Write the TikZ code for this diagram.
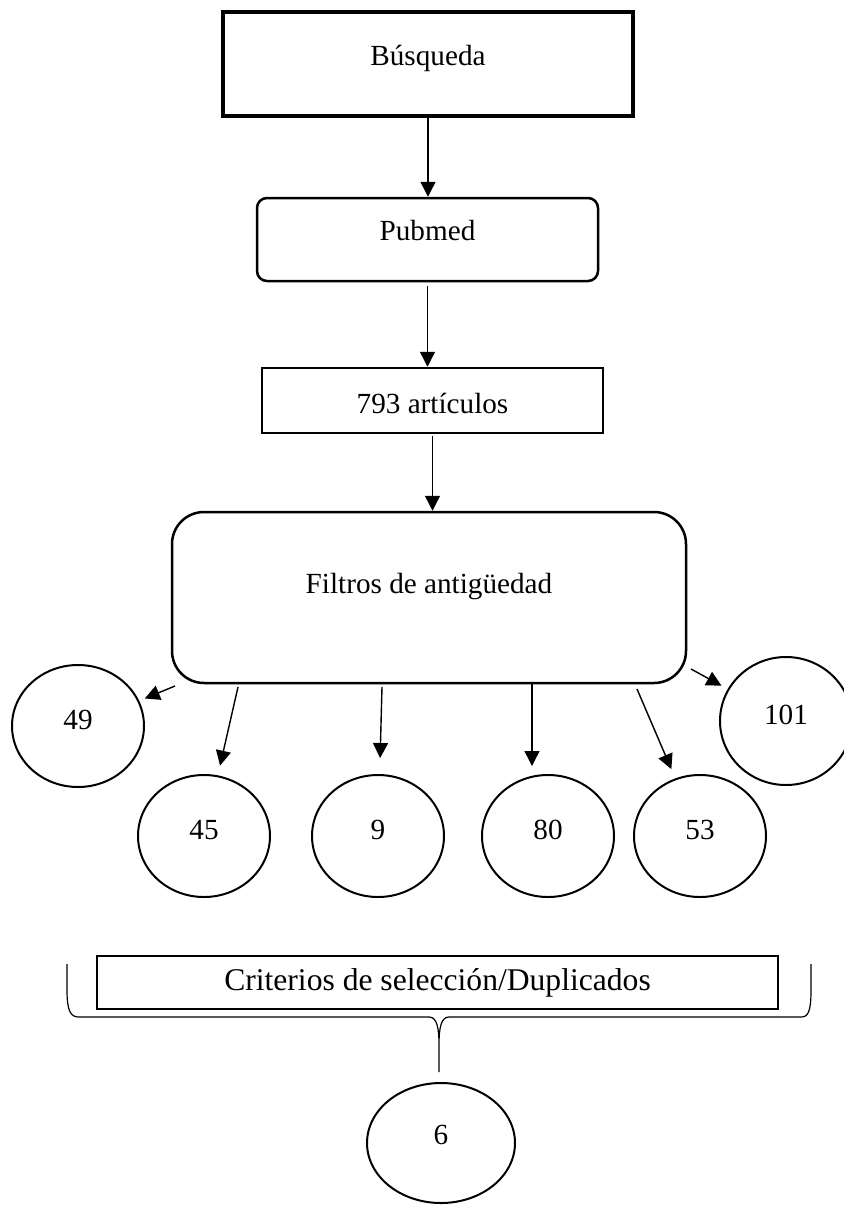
\documentclass[tikz,border=0pt]{standalone}
\usepackage{fontspec}
\setmainfont{Liberation Serif}
\usepackage{tikz}
\usetikzlibrary{positioning,shapes,arrows,arrows.meta}

\begin{document}
\begin{tikzpicture}[
	x=0.5pt, y=-0.5pt,
	every node/.style = {align=center, font=\fontsize{14.6}{17}\selectfont},
	caja/.style = {rectangle, draw, line width=1.25pt, inner sep=0pt},
	cajared/.style = {caja, rounded corners=5pt},
	circulo/.style = {ellipse, draw, line width=1pt, inner sep=0pt,
		minimum width=66pt, minimum height=61pt, text depth=6pt},
	flecha/.style = {line width=0.7pt, -{Triangle[length=7.5pt,width=7.5pt]}}]
	
	\useasboundingbox (0,0) rectangle (843,1205);
	
	% cajas
	\node[caja, line width=1.6pt, minimum width=205pt, minimum height=52pt, text depth=9pt] (busqueda) at (428,64) {Búsqueda};
	\node[cajared, minimum width=170.5pt, minimum height=41.5pt, text depth=9.6pt] (pubmed) at (427.5,239.5) {Pubmed};
	\node[caja, minimum width=170.5pt, minimum height=32.5pt, text height=13pt] (articulos) at (432.5,400.5) {793 artículos};
	\node[cajared, rounded corners=16pt, minimum width=257pt, minimum height=85.5pt, text depth=14pt] (filtros) at (429,597.5) {Filtros de antigüedad};
	
	\draw[flecha] (busqueda.south) -- (busqueda.south |- pubmed.north);
	\draw[flecha, shorten <=2pt] (pubmed.south) -- (pubmed.south |- articulos.north);
	\draw[flecha, shorten <=1pt] (articulos.south) -- (articulos.south |- filtros.north);
	
	% resultados
	\node[circulo] (n49) at (78,726) {49};
	\node[circulo] (n45) at (204,836) {45};
	\node[circulo] (n9) at (378,836) {9};
	\node[circulo] (n80) at (548,836) {80};
	\node[circulo] (n53) at (700,836) {53};
	\node[circulo, minimum height=64pt] (n101) at (786,721) {101};
	
	\coordinate (s49) at (175,686);
	\coordinate (s45) at (238,687);
	\coordinate (s9) at (382,687);
	\coordinate (s80) at (532,683);
	\coordinate (s53) at (637,689);
	\coordinate (s101) at (691,669);
	
	\draw[flecha, shorten >=3pt] (s49) -- (n49);
	\draw[flecha, shorten >=5pt] (s45) -- (n45);
	\draw[flecha, shorten >=8pt] (s9) -- (n9);
	\draw[flecha, shorten >=4pt] (s80) -- (s80 |- n80.north);
	\draw[flecha, shorten >=5pt] (s53) -- (n53);
	\draw[flecha, shorten >=3.5pt] (s101) -- (n101);
	
	% seleccion
	\node[caja, line width=1pt, minimum width=340.5pt, minimum height=26.5pt, font=\fontsize{15.8}{18}\selectfont] (criterios) at (437.5,982.5) {Criterios de selección/Duplicados};
	\draw[line width=0.6pt] (67,964) -- (67,990) .. controls (67,1012) and (71,1017) .. (79,1017)
		-- (429,1017) .. controls (437,1017) and (439,1028) .. (439,1045) -- (439,1072)
		-- (439,1045) .. controls (439,1028) and (441,1017) .. (449,1017)
		-- (801,1017) .. controls (808,1017) and (811,1012) .. (811,990) -- (811,964);
	
	\node[circulo, minimum width=74pt, minimum height=60pt, text depth=8pt] (n6) at (441,1143) {6};
\end{tikzpicture}
\end{document}
